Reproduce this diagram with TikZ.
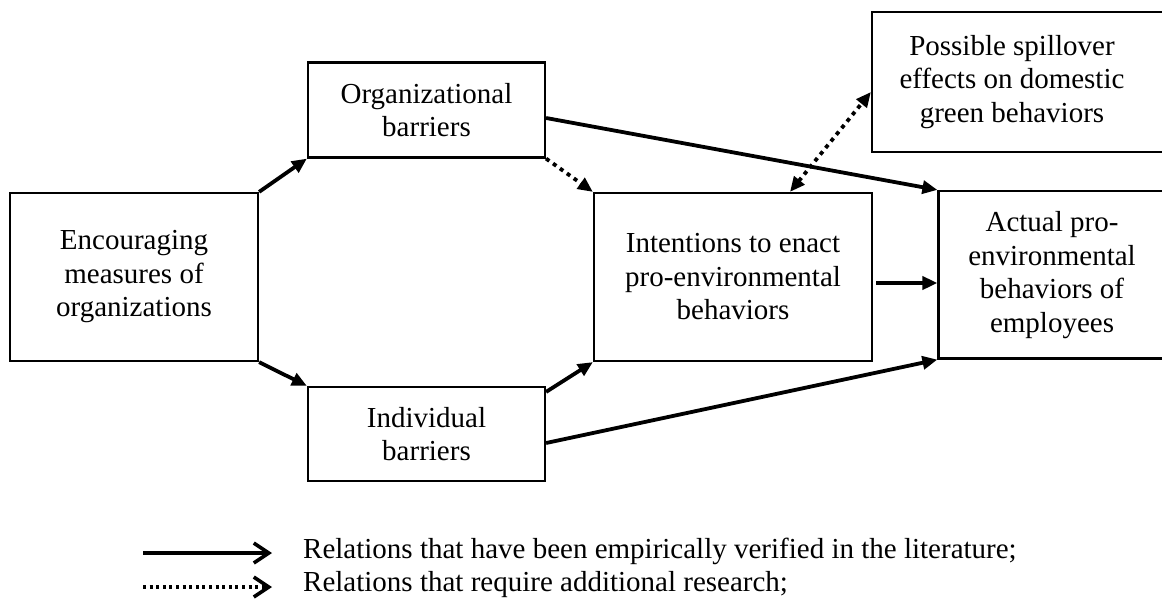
\documentclass[tikz,border=0pt]{standalone}
\usepackage{fontspec}
\setmainfont{Liberation Serif}
\usetikzlibrary{arrows.meta}
\begin{document}
\begin{tikzpicture}[x=1pt,y=-1pt,
  box/.style={draw, line width=2.2pt, rectangle, inner sep=0pt},
  txt/.style={align=center, font=\fontsize{29}{33.5}\selectfont, inner sep=0pt},
  tip/.style={},
  conn/.style={line width=3.8pt, -{Triangle[length=15pt,width=13pt]}},
  dotconn/.style={line width=3.8pt, dash pattern=on 4pt off 4.5pt, -{Triangle[length=15pt,width=13pt]}},
  dotboth/.style={line width=3.8pt, dash pattern=on 4pt off 4.5pt, {Triangle[length=15pt,width=13pt]}-{Triangle[length=15pt,width=13pt]}},
  legtxt/.style={anchor=base west, font=\fontsize{29}{33.5}\selectfont, inner sep=0pt},
]
\useasboundingbox (0,0) rectangle (1162,614);
\clip (0,0) rectangle (1162,614);

% boxes
\node[box, txt, minimum width=248pt, minimum height=168pt] (enc) at (134,277)
  {Encouraging\\measures of\\organizations};
\node[box, txt, minimum width=237pt, minimum height=95pt] (org) at (426.5,110)
  {Organizational\\barriers};
\node[box, txt, minimum width=237pt, minimum height=94pt] (ind) at (426.5,434)
  {Individual\\barriers};
\node[box, txt, minimum width=278pt, minimum height=168pt] (int) at (733,277)
  {Intentions to enact\\pro-environmental\\behaviors};
\node[box, minimum width=303pt, minimum height=140pt] (spill) at (1023.5,82) {};
\node[txt] (spilltxt) at (1012,82) {Possible spillover\\effects on domestic\\green behaviors};
\node[box, minimum width=236.5pt, minimum height=167.5pt] (act) at (1056.75,274.75) {};
\node[txt] (acttxt) at (1052,275) {Actual pro-\\environmental\\behaviors of\\employees};

% connectors
\draw[conn] (enc.north east) -- (org.south west);
\draw[conn] (enc.south east) -- (ind.north west);
\draw[dotconn] (org.south east) -- (int.north west);
\draw[conn] ([yshift=-8pt]org.east) -- (act.north west);
\draw[conn] ([yshift=-6pt]ind.north east) -- (int.south west);
\draw[conn] ([yshift=-9pt]ind.east) -- (act.south west);
\draw[conn] ([xshift=3pt,yshift=-6pt]int.east) -- ([yshift=-6pt]int.east -| act.west);
\draw[dotboth] ([xshift=57pt]int.north) -- ([yshift=-10pt]spill.west);

% legend
\coordinate (l1a) at (143,553);
\coordinate (l1b) at (272,553);
\coordinate (l2a) at (143,587);
\coordinate (l2b) at (272,587);
\draw[line width=3.6pt, -{Straight Barb[length=15pt,width=20pt,line width=3.6pt]}] (l1a) -- (l1b);
\draw[line width=3.6pt, dash pattern=on 3pt off 3.6pt, -{Straight Barb[length=15pt,width=20pt,line width=3.6pt]}] (l2a) -- (l2b);
\node[legtxt] (leg1) at (303,558) {Relations that have been empirically verified in the literature;};
\node[legtxt] (leg2) at (303,591) {Relations that require additional research;};
\end{tikzpicture}
\end{document}
